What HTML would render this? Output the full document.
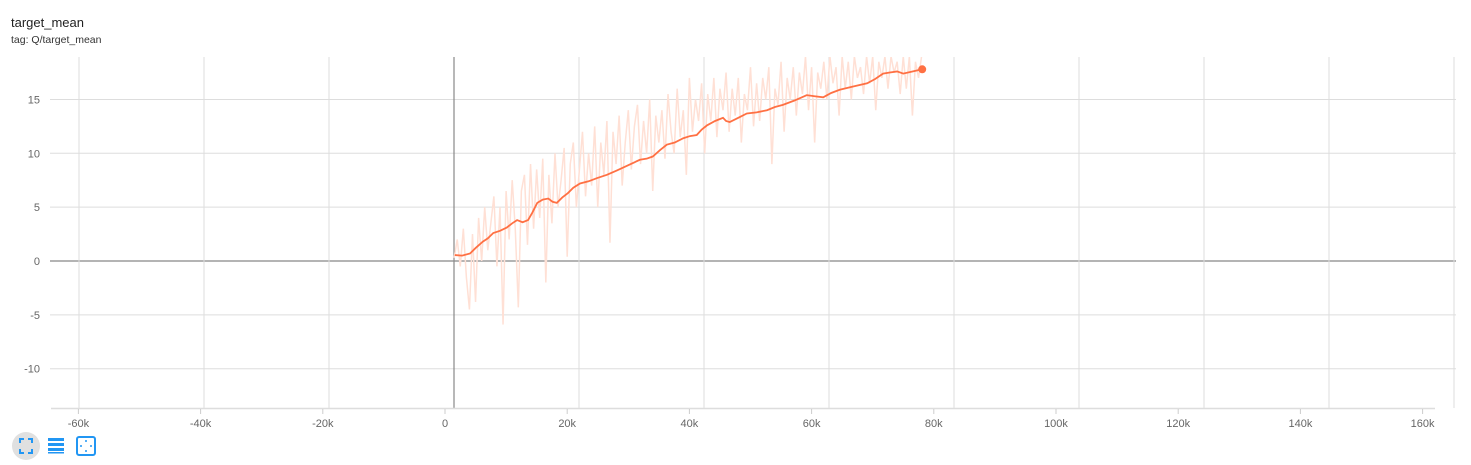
<!DOCTYPE html>
<html><head><meta charset="utf-8"><style>
body{margin:0;background:#fff;font-family:"Liberation Sans",sans-serif;}
svg{display:block}
</style></head><body>
<svg width="1471" height="465">
<text x="11" y="27" font-size="13" fill="#222">target_mean</text>
<text x="11" y="43" font-size="10.5" fill="#333">tag: Q/target_mean</text>
<defs><clipPath id="clip"><rect x="50" y="57" width="1406" height="351"/></clipPath></defs>
<g id="grid"></g>
<g id="axes"></g>
<g id="series" clip-path="url(#clip)"></g>
<g>
 <circle cx="26" cy="446" r="14" fill="#e0e0e0"/>
 <path d="M20 443v-4h4M28 439h4v4M32 449v4h-4M24 453h-4v-4" stroke="#2196f3" stroke-width="2" fill="none"/>
 <g><rect x="48" y="438" width="16" height="3" fill="#2196f3"/><rect x="48" y="443" width="16" height="3" fill="#2196f3"/><rect x="48" y="448" width="16" height="3" fill="#2196f3"/><rect x="48" y="452" width="16" height="1.5" fill="#2196f3"/></g>
 <g><rect x="77" y="437" width="18" height="18" rx="2" fill="none" stroke="#2196f3" stroke-width="2"/><circle cx="86" cy="441" r="1" fill="#2196f3"/><circle cx="86" cy="451" r="1" fill="#2196f3"/><circle cx="81" cy="446" r="1" fill="#2196f3"/><circle cx="91" cy="446" r="1" fill="#2196f3"/></g>
</g>
</svg>
<script>
const xTicks=[-60,-40,-20,0,20,40,60,80,100,120,140,160];
const yTicks=[-10,-5,0,5,10,15];
const smoothSteps=[1.6,2.8,4.1,5.0,6.2,7.0,7.9,9.0,10.1,11.0,11.8,12.7,13.6,14.3,15.1,16.0,16.9,17.6,18.3,19.2,20.1,21.0,22.1,23.5,24.9,26.5,28.1,30.0,31.9,33.0,34.0,35.2,36.3,37.6,39.0,40.1,41.2,42.0,42.9,44.2,45.5,46.0,46.6,48.0,49.4,51.0,52.7,54.0,55.3,57.2,59.2,60.5,61.9,63.2,64.6,66.8,69.1,70.4,71.7,72.8,74.0,75.0,76.5,78.1];
const smoothVals=[0.55,0.5,0.7,1.2,1.8,2.1,2.6,2.8,3.1,3.5,3.8,3.6,3.8,4.5,5.4,5.7,5.8,5.5,5.4,5.9,6.3,6.8,7.2,7.4,7.7,8.0,8.4,8.9,9.4,9.5,9.7,10.3,10.8,11.0,11.4,11.6,11.7,12.2,12.6,13.0,13.3,13.0,12.9,13.3,13.7,13.8,14.0,14.3,14.5,14.9,15.4,15.3,15.2,15.6,15.9,16.2,16.5,16.9,17.4,17.5,17.6,17.4,17.6,17.8];
const rawSteps=[1.5,2,2.5,3,3.5,4,4.5,5,5.5,6,6.5,7,7.5,8,8.5,9,9.5,10,10.5,11,11.5,12,12.5,13,13.5,14,14.5,15,15.5,16,16.5,17,17.5,18,18.5,19,19.5,20,20.5,21,21.5,22,22.5,23,23.5,24,24.5,25,25.5,26,26.5,27,27.5,28,28.5,29,29.5,30,30.5,31,31.5,32,32.5,33,33.5,34,34.5,35,35.5,36,36.5,37,37.5,38,38.5,39,39.5,40,40.5,41,41.5,42,42.5,43,43.5,44,44.5,45,45.5,46,46.5,47,47.5,48,48.5,49,49.5,50,50.5,51,51.5,52,52.5,53,53.5,54,54.5,55,55.5,56,56.5,57,57.5,58,58.5,59,59.5,60,60.5,61,61.5,62,62.5,63,63.5,64,64.5,65,65.5,66,66.5,67,67.5,68,68.5,69,69.5,70,70.5,71,71.5,72,72.5,73,73.5,74,74.5,75,75.5,76,76.5,77,77.5,78];
const rawVals=[0.3,2,-0.5,3,-1.5,-4.5,2.5,-3.8,4,0,5,1,3.5,6,-0.5,5,-5.9,6.5,2,7.5,3,-4.3,6.5,8,1.5,9,3,8.5,4,9.5,-2,8,3.5,10,5,7.5,10.5,0.4,9,11,5,8.5,12,6,10,7,12.5,5,11,8,13,1.7,12,9,13.5,7,11,14,8.5,12.5,14.5,9,13,10,15,6.5,13.5,11,14,9.5,15.5,12,10,16,11.5,14,8,17,12,15,13,16.5,10,15.5,13,17,11.5,16,14,17.5,12,16,13.5,17,11,15.5,14,18,12.5,16.5,13,17,15,18,9,16,14.5,18.5,12,17,15,18,13.5,17.5,15.5,19,14,18,11,17.5,16,18.5,15,19,16.5,18,13.5,19,16,18.5,15,19,17,18,15.5,19,16.5,19,14,18.5,17,19,16,19,17.5,18.5,15.5,19,16,19,13.5,18.5,17,19,15.5,18];
const NS='http://www.w3.org/2000/svg';
const X=v=>445+v*122.2/20;
const Y=v=>261-v*10.77;
function mk(t,a,p){const e=document.createElementNS(NS,t);for(const k in a)e.setAttribute(k,a[k]);p.appendChild(e);return e;}
const grid=document.getElementById('grid'),axes=document.getElementById('axes'),ser=document.getElementById('series');
yTicks.forEach(v=>{
 const l=mk('line',{x1:50,x2:1456,y1:Y(v),y2:Y(v),stroke:v===0?'#888':'#ddd','stroke-width':v===0?1.2:1},grid);
 
 
 const t=mk('text',{x:40,y:Y(v)+4,'text-anchor':'end','font-size':11,fill:'#666'},axes);
 t.textContent=v;
 
 
});
for(let i=-3;i<=8;i++){
 const gx=454+i*125;
 const l=mk('line',{x1:gx,x2:gx,y1:57,y2:408,stroke:i===0?'#888':'#ddd','stroke-width':i===0?1.2:1},grid);
 
 
}
const ax=mk('line',{x1:51,x2:1435,y1:408.5,y2:408.5,stroke:'#ddd','stroke-width':1.5},axes);


xTicks.forEach(v=>{
 mk('line',{x1:X(v),x2:X(v),y1:409,y2:414,stroke:'#ccc'},axes);
 const t=mk('text',{x:X(v),y:427,'text-anchor':'middle','font-size':11,fill:'#666'},axes);
 t.textContent=v===0?'0':v+'k';
 
 
});
const raw=mk('polyline',{points:rawSteps.map((s,i)=>X(s)+','+Y(rawVals[i])).join(' '),fill:'none',stroke:'#ffe0d5','stroke-width':1.5},ser);


const sm=mk('polyline',{points:smoothSteps.map((s,i)=>X(s)+','+Y(smoothVals[i])).join(' '),fill:'none',stroke:'#ff7043','stroke-width':1.8},ser);


const n=smoothSteps.length-1;
const dot=mk('circle',{cx:X(smoothSteps[n]),cy:Y(smoothVals[n]),r:4,fill:'#ff7043'},document.querySelector('svg'));


</script>
</body></html>
